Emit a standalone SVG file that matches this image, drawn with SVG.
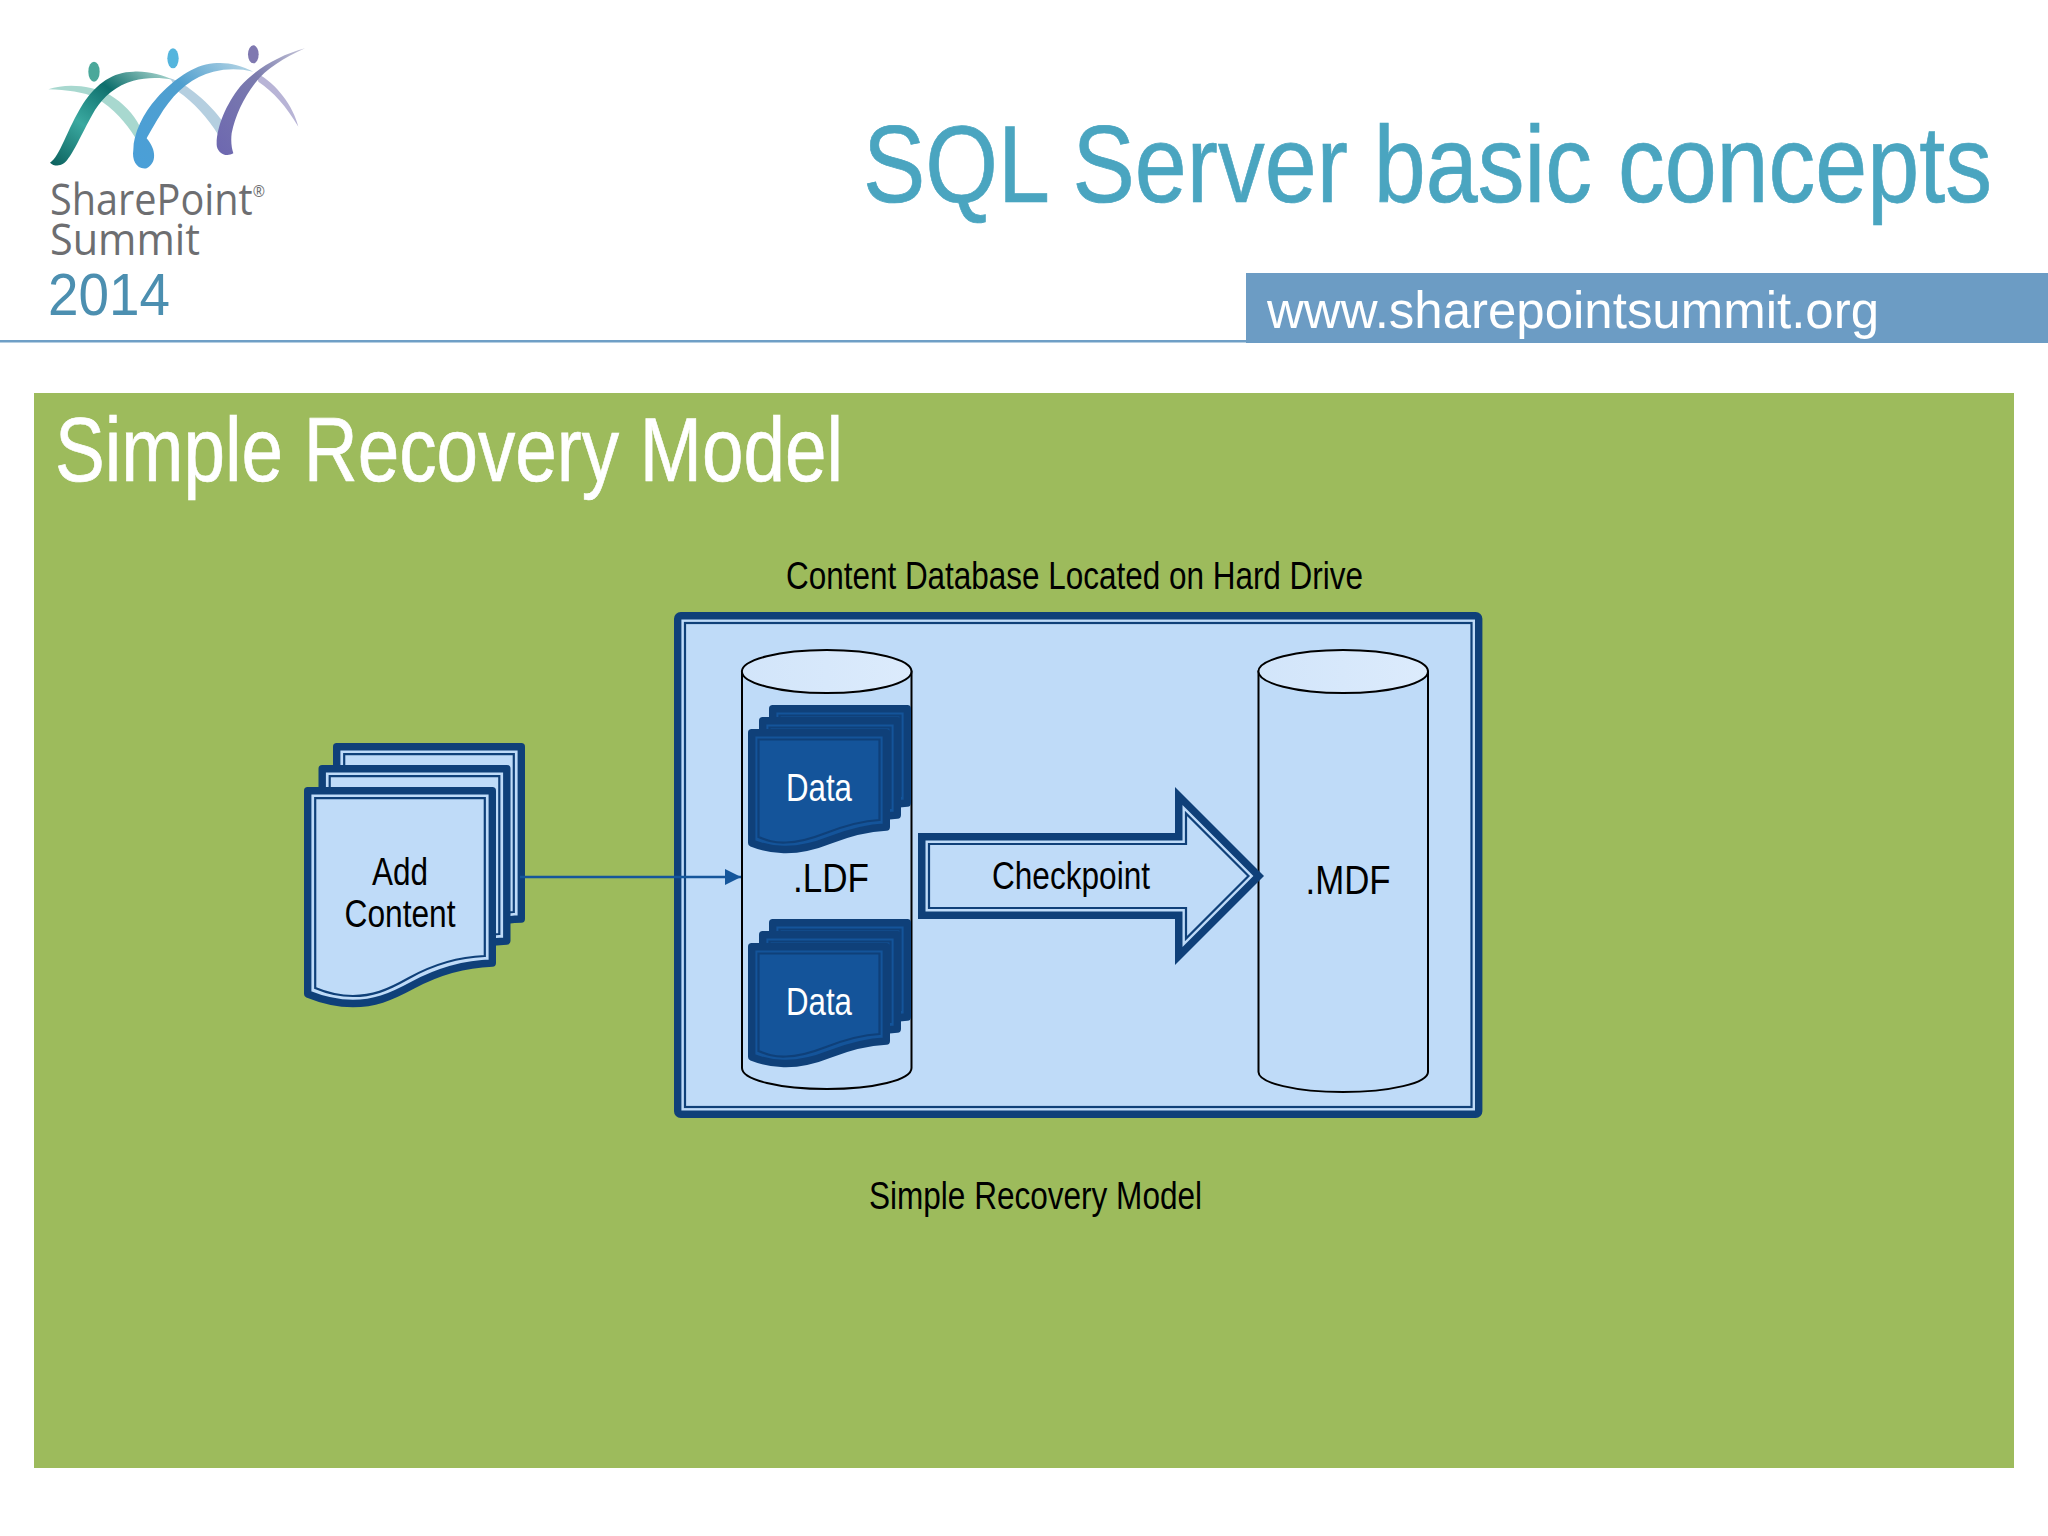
<svg xmlns="http://www.w3.org/2000/svg" width="2048" height="1536" viewBox="0 0 2048 1536">
<style>
text{font-family:"Liberation Sans",Arial,sans-serif;fill:#000}
.c{text-anchor:middle}
.lbl{font-size:38px}
.big{stroke-width:.7}
.cyl{fill:#bfdbf8;stroke:#000;stroke-width:2}
.top{fill:url(#capG);stroke:#000;stroke-width:2}
.outer{stroke-width:7.4;stroke-linejoin:round}
.inner{stroke-width:2.2;fill:none;stroke-linejoin:miter}
.lite{fill:#bfdbf8;stroke:#0f4079}
.dark{fill:#14549a;stroke:#0f4079}
.logoT{font-family:"Open Sans","Noto Sans",sans-serif;fill:#6d6e71;font-size:43px}
</style>
<defs>
<linearGradient id="capG" x1="0" x2="1" y1="0" y2="0"><stop offset="0" stop-color="#d2e5fa"/><stop offset="1" stop-color="#dcebfc"/></linearGradient>
<linearGradient id="rb1" x1="0" y1="1" x2="1" y2="0"><stop offset="0" stop-color="#0a5f5c"/><stop offset=".35" stop-color="#3aa9a0"/><stop offset=".65" stop-color="#0e6f6c"/><stop offset="1" stop-color="#b5ddd6"/></linearGradient>
<linearGradient id="rb2" x1="0" y1="1" x2="1" y2="0"><stop offset="0" stop-color="#4a9fd8"/><stop offset=".6" stop-color="#4f9fcf"/><stop offset="1" stop-color="#bcd8e6"/></linearGradient>
<linearGradient id="rb3" x1="0" y1="1" x2="1" y2="0"><stop offset="0" stop-color="#6d67b0"/><stop offset=".6" stop-color="#7b7cae"/><stop offset="1" stop-color="#c5c5d8"/></linearGradient>
<marker id="ah" markerWidth="16" markerHeight="16" refX="16" refY="8" orient="auto" markerUnits="userSpaceOnUse"><path d="M0 0L16 8L0 16Z" fill="#15569b"/></marker>
<g id="doc">
<path class="outer" d="M3.700 207V3.700H188.300V176C160 177 135 184 109 198C85 211 70 216.500 49 216.500C32 216.500 16 212 3.700 207Z"/>
<path class="inner" d="M11.200 201V11.200H180.800V169C155 170 130 177 105 191C82 204 68 209 49 209C33 209 23 206 11.200 201Z"/>
</g>
<g id="docD">
<path class="outer" d="M3.700 114V3.700H138.300V98C118 99 100 104 82 111C62 119 50 120.500 38 120.500C24 121 14 118 3.700 114Z"/>
<path class="inner" d="M10.500 108V10.500H131.500V91C112 92 96 97 78 104C60 111 50 113.500 38 113.500C26 114 19 111.500 10.500 108Z"/>
</g>
</defs>
<rect width="2048" height="1536" fill="#fff"/>

<g id="logo">
<g transform="translate(0,20) scale(.33333)">
<path fill="#a8d8cf" d="M145 208C200 190 270 195 330 225C370 250 400 280 420 320L405 352C380 310 340 265 290 235C250 215 200 210 145 208Z"/>
<path fill="url(#rb1)" d="M150 428C180 410 200 330 250 250C290 190 340 155 400 155C440 152 490 165 520 180C480 172 440 172 400 182C350 195 310 230 285 270C250 330 225 390 205 415C190 440 165 442 150 428Z"/>
<path fill="#b5cfe0" d="M510 175C560 190 630 250 672 310L655 345C625 295 580 245 535 215Z"/>
<path fill="url(#rb2)" d="M400 390C400 340 430 280 470 235C520 180 580 135 640 130C680 125 720 135 760 155C720 145 680 145 640 155C580 170 530 210 490 270C465 310 445 345 440 355C470 390 470 430 440 445C410 450 395 420 400 390Z"/>
<path fill="#b8b4d6" d="M770 160C830 190 880 260 895 320C860 260 820 215 775 185Z"/>
<path fill="url(#rb3)" d="M650 370C650 320 680 250 720 200C770 145 840 105 915 85C850 115 800 145 765 190C730 235 705 290 695 340C692 365 695 385 700 400C675 415 648 395 650 370Z"/>
<ellipse cx="282" cy="155" rx="17" ry="30" fill="#4aa89a"/>
<ellipse cx="519" cy="115" rx="17" ry="30" fill="#55b5dd"/>
<ellipse cx="760" cy="103" rx="16" ry="27" fill="#7f78b0"/>
</g>
<text class="logoT" x="50" y="215" textLength="215" lengthAdjust="spacingAndGlyphs">SharePoint<tspan font-size="16" dy="-18">®</tspan></text>
<text class="logoT" x="50" y="255" textLength="150" lengthAdjust="spacingAndGlyphs">Summit</text>
<text x="48" y="315" font-size="60" style="fill:#4c8fb0" textLength="122" lengthAdjust="spacingAndGlyphs">2014</text>
</g>

<g id="header">
<rect x="0" y="340" width="2048" height="2.500" fill="#6f9fc6"/>
<rect x="1246" y="273" width="802" height="70" fill="#6c9cc4"/>
<text class="big" x="863" y="202" font-size="109" style="fill:#4aa5c0;stroke:#4aa5c0" textLength="1129" lengthAdjust="spacingAndGlyphs">SQL Server basic concepts</text>
<text x="1267" y="328" font-size="52" style="fill:#fff" textLength="612" lengthAdjust="spacingAndGlyphs">www.sharepointsummit.org</text>
</g>

<rect id="panel" x="34" y="393" width="1980" height="1075" fill="#9dbb5c"/>
<text class="big" id="panel-title" x="55" y="481" font-size="91" style="fill:#fff;stroke:#fff" textLength="788" lengthAdjust="spacingAndGlyphs">Simple Recovery Model</text>
<text id="db-caption" x="786" y="589" class="lbl" textLength="577" lengthAdjust="spacingAndGlyphs">Content Database Located on Hard Drive</text>
<text id="model-caption" x="869" y="1209" class="lbl" textLength="333" lengthAdjust="spacingAndGlyphs">Simple Recovery Model</text>

<g id="content-box">
<rect x="677.700" y="615.700" width="801" height="498.600" rx="3" fill="#bfdbf8" stroke="#0f4079" stroke-width="7.400" stroke-linejoin="round"/>
<rect x="685" y="623" width="786.500" height="484" fill="none" stroke="#0f4079" stroke-width="2.200"/>
</g>

<g id="add-content">
<use href="#doc" class="lite" transform="translate(333,743)"/>
<use href="#doc" class="lite" transform="translate(318.500,765)"/>
<use href="#doc" class="lite" transform="translate(304,787)"/>
<text class="c lbl" x="400" y="885" textLength="56" lengthAdjust="spacingAndGlyphs">Add</text>
<text class="c lbl" x="400" y="927" textLength="111" lengthAdjust="spacingAndGlyphs">Content</text>
</g>

<g id="ldf">
<path class="cyl" d="M742 671.500V1068C742 1080 780 1089 827 1089C874 1089 911.500 1080 911.500 1068V671.500Z"/>
<ellipse class="top" cx="826.700" cy="671.500" rx="84.800" ry="21.500"/>
<text class="c" x="831" y="892" font-size="41" textLength="76" lengthAdjust="spacingAndGlyphs">.LDF</text>
</g>
<g id="data-1">
<use href="#docD" class="dark" transform="translate(769,705)"/>
<use href="#docD" class="dark" transform="translate(759,717)"/>
<use href="#docD" class="dark" transform="translate(748,729)"/>
<text class="c lbl" x="819" y="801" style="fill:#fff" textLength="66" lengthAdjust="spacingAndGlyphs">Data</text>
</g>
<g id="data-2">
<use href="#docD" class="dark" transform="translate(769,919)"/>
<use href="#docD" class="dark" transform="translate(759,931)"/>
<use href="#docD" class="dark" transform="translate(748,943)"/>
<text class="c lbl" x="819" y="1015" style="fill:#fff" textLength="66" lengthAdjust="spacingAndGlyphs">Data</text>
</g>

<g id="mdf">
<path class="cyl" d="M1258.500 671.500V1072C1258.500 1083 1296 1092 1343 1092C1390 1092 1428 1083 1428 1072V671.500Z"/>
<ellipse class="top" cx="1343.200" cy="671.500" rx="84.800" ry="21.500"/>
<text class="c" x="1348" y="894" font-size="41" textLength="85" lengthAdjust="spacingAndGlyphs">.MDF</text>
</g>

<g id="checkpoint">
<polygon fill="#0f4079" points="918,833 1175,833 1175,787 1264,876 1175,965 1175,919 918,919"/>
<polygon fill="#bfdbf8" points="925.500,840.500 1182.500,840.500 1182.500,805 1253.400,876 1182.500,947 1182.500,911.500 925.500,911.500"/>
<polygon fill="none" stroke="#0f4079" stroke-width="2.200" points="929,844 1186,844 1186,813.500 1248.500,876 1186,938.500 1186,908 929,908"/>
<text class="c lbl" x="1071" y="889" textLength="158" lengthAdjust="spacingAndGlyphs">Checkpoint</text>
</g>

<g id="connectors">
<line x1="520" y1="877" x2="741" y2="877" stroke="#15569b" stroke-width="2.600" marker-end="url(#ah)"/>
</g>
</svg>
